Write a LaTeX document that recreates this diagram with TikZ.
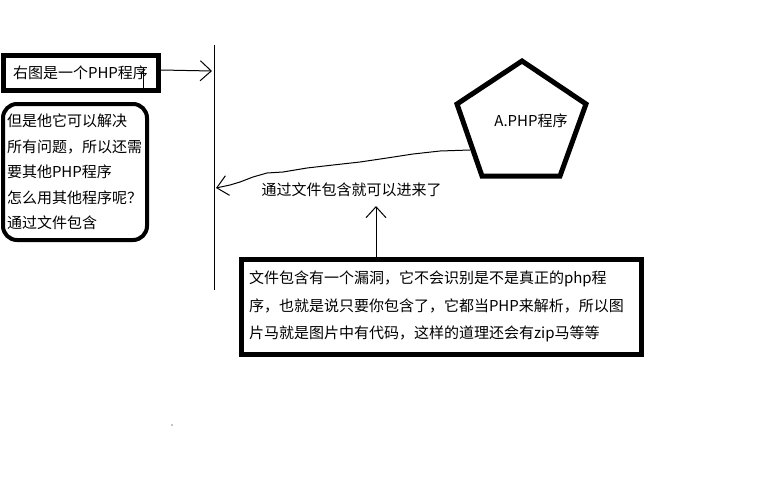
\documentclass[tikz,border=0pt]{standalone}
\usepackage{fontspec}
\setmainfont{Noto Sans CJK SC}
\usetikzlibrary{arrows.meta}
\begin{document}
\begin{tikzpicture}[x=1pt,y=-1pt,
  thin line/.style={line width=1pt,black},
  thickbox/.style={draw,line width=5pt,inner sep=0pt},
  roundbox/.style={draw,line width=4pt,rounded corners=14pt,inner sep=0pt},
  txt/.style={font=\fontsize{15pt}{18pt}\selectfont},
  barb/.style={-{Straight Barb[length=11pt,width=20pt,line width=1pt]}}]
\useasboundingbox (0,0) rectangle (768,480);
\fill[white] (0,0) rectangle (768,480);
% box 1
\node[thickbox,txt,minimum width=155pt,minimum height=35pt] (b1) at (80.5,72.5) {右图是一个PHP程序};
\coordinate (tickA) at (143,68);
\coordinate (tickB) at (143,88);
\draw[thin line] (tickA) -- (tickB);
% vertical line
\coordinate (vtop) at (214,45);
\coordinate (vbot) at (214,290);
\draw[thin line] (vtop) -- (vbot);
\coordinate (a1s) at (161,70);
\coordinate (a1e) at (212,71);
\draw[thin line,barb] (a1s) -- (a1e);
% box 2
\node[roundbox,minimum width=144pt,minimum height=136pt,text width=136pt,align=left,
  font=\fontsize{15pt}{25.5pt}\selectfont] (b2) at (75,172)
  {但是他它可以解决\\所有问题，所以还需\\要其他PHP程序\\怎么用其他程序呢？\\通过文件包含};
% pentagon
\coordinate (p1) at (522,61);
\coordinate (p2) at (586,104);
\coordinate (p3) at (560,176);
\coordinate (p4) at (482,176);
\coordinate (p5) at (457,104);
\draw[line width=5pt,line join=miter] (p1) -- (p2) -- (p3) -- (p4) -- (p5) -- cycle;
\node[txt] (pt) at (531,121) {A.PHP程序};
% wavy arrow
\coordinate (ws) at (470,150);
\coordinate (we) at (216,188);
\draw[thin line,barb] (ws) -- (440,151) -- (413,154) -- (387,158) -- (360,162) -- (333,165)
  -- (307,168) -- (283,172) -- (267,173) -- (253,177) -- (240,182) -- (230,185) -- (we);
\node[txt,anchor=west] (lbl) at (258,190) {通过文件包含就可以进来了};
% box 3
\node[thickbox,minimum width=400pt,minimum height=95pt,text width=384pt,align=left,
  font=\fontsize{15pt}{27.5pt}\selectfont] (b3) at (441,306.5)
  {文件包含有一个漏洞，它不会识别是不是真正的php程\\序，也就是说只要你包含了，它都当PHP来解析，所以图\\片马就是图片中有代码，这样的道理还会有zip马等等};
\coordinate (up) at (376,206);
\draw[thin line,barb] (b3.north -| up) -- (up);
% dot
\coordinate (dot) at (172,425);
\fill (dot) circle (0.6pt);
\end{tikzpicture}
\end{document}
